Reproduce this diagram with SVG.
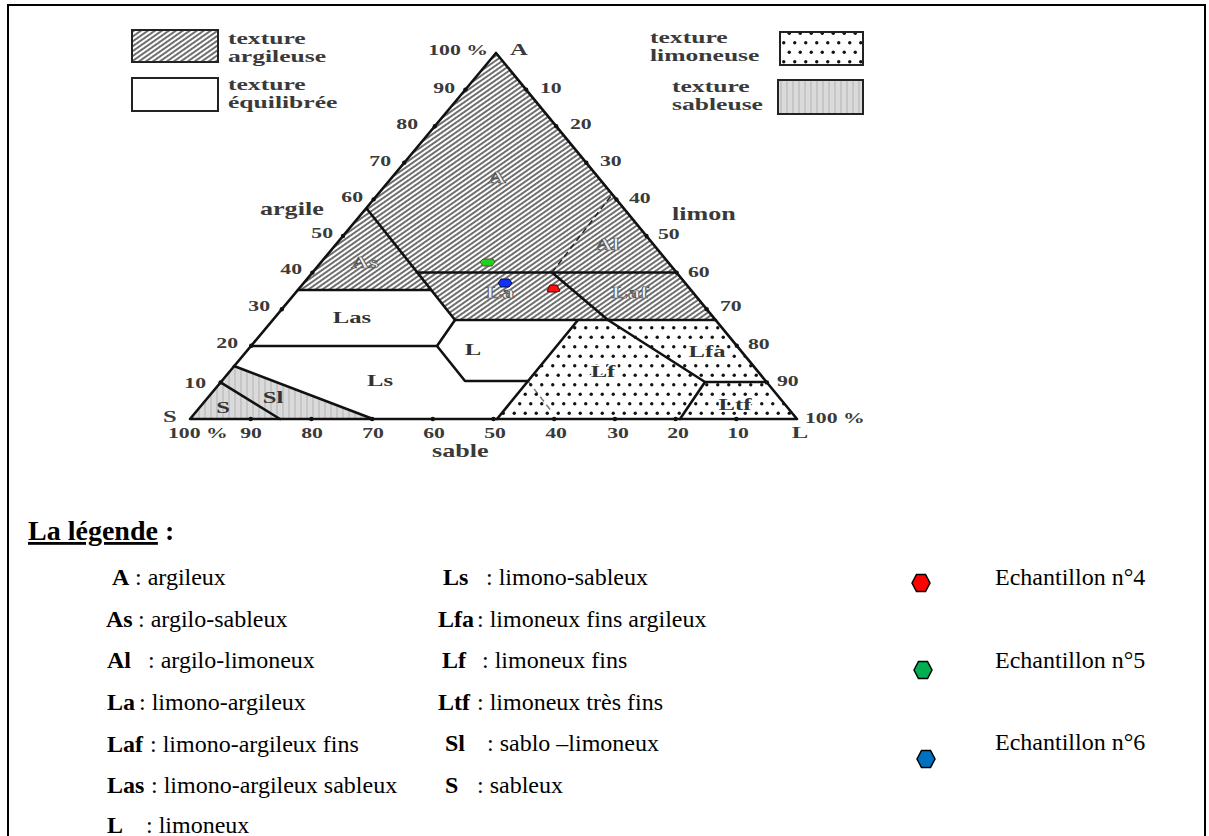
<svg xmlns="http://www.w3.org/2000/svg" width="1209" height="836" viewBox="0 0 1209 836">
<defs>
<style>
.n{font-family:"Liberation Serif","Times New Roman",serif;font-weight:bold;font-size:15px;fill:#3a3a3a}
.w{font-family:"Liberation Serif","Times New Roman",serif;font-weight:bold;font-size:18px;fill:#3a3a3a}
.wl{font-family:"Liberation Serif","Times New Roman",serif;font-weight:bold;font-size:16px;fill:#3a3a3a}
.r{font-family:"Liberation Serif","Times New Roman",serif;font-weight:bold;font-size:17px;text-anchor:middle}
.rh{fill:#f2f2f2;stroke:#555;stroke-width:0.7}
.rd{fill:#333;stroke:#fff;stroke-width:3;paint-order:stroke}
.bd{fill:none;stroke:#111;stroke-width:2.6;stroke-linejoin:round;stroke-linecap:round}
.ds{fill:none;stroke:#222;stroke-width:1.5;stroke-dasharray:6 4}
.tk{fill:#111}
.lg{font-family:"Liberation Serif","Times New Roman",serif;font-size:24px;fill:#000}
.b{font-weight:bold}
.hx{stroke:#000;stroke-width:1.5}
.box{stroke:#222;stroke-width:2}
</style>
<pattern id="hatch" width="4" height="4" patternUnits="userSpaceOnUse" patternTransform="rotate(-35)">
<rect width="4" height="4" fill="#fff"/>
<line x1="0" y1="2" x2="4" y2="2" stroke="#4a4a4a" stroke-width="1.6"/>
</pattern>
<pattern id="dots" width="11" height="19" patternUnits="userSpaceOnUse">
<rect width="11" height="19" fill="#fff"/>
<circle cx="2.75" cy="4.75" r="1.7" fill="#111"/>
<circle cx="8.25" cy="14.25" r="1.7" fill="#111"/>
</pattern>
<pattern id="sand" width="6" height="6" patternUnits="userSpaceOnUse">
<rect width="6" height="6" fill="#dadada"/>
<rect x="0" width="2" height="6" fill="#c6c6c6"/>
</pattern>
</defs>
<rect width="1209" height="836" fill="#fff"/>
<rect x="8" y="5" width="1197" height="840" fill="none" stroke="#000" stroke-width="2"/>

<g id="texture-legend">
<rect class="box" x="132" y="30" width="86" height="32" fill="url(#hatch)"/>
<rect class="box" x="132" y="78" width="86" height="33" fill="#fff"/>
<rect class="box" x="780" y="32" width="83" height="33" fill="url(#dots)"/>
<rect class="box" x="778" y="80" width="85" height="34" fill="url(#sand)"/>
<text class="wl" transform="translate(228 44) scale(1.6 1)">texture</text>
<text class="wl" transform="translate(228 62) scale(1.6 1)">argileuse</text>
<text class="wl" transform="translate(228 90) scale(1.6 1)">texture</text>
<text class="wl" transform="translate(228 108) scale(1.6 1)">équilibrée</text>
<text class="wl" transform="translate(650 43) scale(1.6 1)">texture</text>
<text class="wl" transform="translate(650 61) scale(1.6 1)">limoneuse</text>
<text class="wl" transform="translate(672 92) scale(1.6 1)">texture</text>
<text class="wl" transform="translate(672 110) scale(1.6 1)">sableuse</text>
</g>

<g id="regions">
<polygon id="reg-A" points="496,53 367,209 417,272.5 676.6,272.5" fill="url(#hatch)"/>
<polygon id="reg-As" points="367,209 298,290 431,290" fill="url(#hatch)"/>
<polygon id="reg-La" points="417,272.5 552,272.5 608,320 455,320" fill="url(#hatch)"/>
<polygon id="reg-Laf" points="552,272.5 676.6,272.5 715.6,320 608,320" fill="url(#hatch)"/>
<polygon id="reg-Las" points="298,290 431,290 455,320 437,346 251,346" fill="#fff"/>
<polygon id="reg-L" points="455,320 578,320 528,381 465,381 437,346" fill="#fff"/>
<polygon id="reg-Ls" points="251,346 437,346 465,381 528,381 497,419 373,419 234,366" fill="#fff"/>
<polygon id="reg-Sl" points="234,366 373,419 280,419 220.6,382.4" fill="url(#sand)"/>
<polygon id="reg-S" points="220.6,382.4 280,419 190,419" fill="url(#sand)"/>
<polygon id="reg-Lf" points="578,320 608,320 705,382 680,419 497,419" fill="url(#dots)"/>
<polygon id="reg-Lfa" points="608,320 715.6,320 766.6,382 705,382" fill="url(#dots)"/>
<polygon id="reg-Ltf" points="705,382 766.6,382 797,419 680,419" fill="url(#dots)"/>
</g>

<g id="connectors">
<polygon class="bd" points="496,53 797,419 190,419"/>
<polyline class="bd" points="367,209 455,320"/>
<polyline class="bd" points="417,272.5 676.6,272.5"/>
<polyline class="bd" points="298,290 431,290"/>
<polyline class="bd" points="455,320 715.6,320"/>
<polyline class="bd" points="251,346 437,346"/>
<polyline class="bd" points="455,320 437,346 465,381 528,381"/>
<polyline class="bd" points="578,320 497,419"/>
<polyline class="bd" points="552,272.5 608,320 705,382 680,419"/>
<polyline class="bd" points="705,382 766.6,382"/>
<polyline class="bd" points="234,366 373,419"/>
<polyline class="bd" points="220.6,382.4 280,419"/>
<polyline class="ds" points="552,272.5 611,196"/>
<polyline class="ds" points="528,381 552,412" opacity="0.6"/>
</g>

<g id="ticks">
<circle class="tk" cx="220.6" cy="382.4" r="2.2"/><circle class="tk" cx="251.2" cy="345.8" r="2.2"/><circle class="tk" cx="281.8" cy="309.2" r="2.2"/><circle class="tk" cx="312.4" cy="272.6" r="2.2"/><circle class="tk" cx="343" cy="236" r="2.2"/><circle class="tk" cx="373.6" cy="199.4" r="2.2"/><circle class="tk" cx="404.2" cy="162.8" r="2.2"/><circle class="tk" cx="434.8" cy="126.2" r="2.2"/><circle class="tk" cx="465.4" cy="89.6" r="2.2"/>
<circle class="tk" cx="526.1" cy="89.6" r="2.2"/><circle class="tk" cx="556.2" cy="126.2" r="2.2"/><circle class="tk" cx="586.3" cy="162.8" r="2.2"/><circle class="tk" cx="616.4" cy="199.4" r="2.2"/><circle class="tk" cx="646.5" cy="236" r="2.2"/><circle class="tk" cx="676.6" cy="272.6" r="2.2"/><circle class="tk" cx="706.7" cy="309.2" r="2.2"/><circle class="tk" cx="736.8" cy="345.8" r="2.2"/><circle class="tk" cx="766.9" cy="382.4" r="2.2"/>
<circle class="tk" cx="250.7" cy="419" r="2.2"/><circle class="tk" cx="311.4" cy="419" r="2.2"/><circle class="tk" cx="372.1" cy="419" r="2.2"/><circle class="tk" cx="432.8" cy="419" r="2.2"/><circle class="tk" cx="493.5" cy="419" r="2.2"/><circle class="tk" cx="554.2" cy="419" r="2.2"/><circle class="tk" cx="614.9" cy="419" r="2.2"/><circle class="tk" cx="675.6" cy="419" r="2.2"/><circle class="tk" cx="736.3" cy="419" r="2.2"/>
</g>

<g id="axis-labels">
<text class="n" text-anchor="end" transform="translate(488 55) scale(1.45 1)">100 %</text>
<text class="n" transform="translate(510 55) scale(1.45 1)" style="font-size:17px">A</text>
<text class="n" text-anchor="end" transform="translate(455 93) scale(1.45 1)">90</text>
<text class="n" text-anchor="end" transform="translate(418 129) scale(1.45 1)">80</text>
<text class="n" text-anchor="end" transform="translate(391 166) scale(1.45 1)">70</text>
<text class="n" text-anchor="end" transform="translate(363 202) scale(1.45 1)">60</text>
<text class="n" text-anchor="end" transform="translate(333 238) scale(1.45 1)">50</text>
<text class="n" text-anchor="end" transform="translate(302 274) scale(1.45 1)">40</text>
<text class="n" text-anchor="end" transform="translate(270 311) scale(1.45 1)">30</text>
<text class="n" text-anchor="end" transform="translate(238 348) scale(1.45 1)">20</text>
<text class="n" text-anchor="end" transform="translate(206 388) scale(1.45 1)">10</text>
<text class="n" transform="translate(163 422) scale(1.45 1)" style="font-size:17px">S</text>
<text class="w" transform="translate(260 215) scale(1.45 1)">argile</text>
<text class="n" transform="translate(540 93) scale(1.45 1)">10</text>
<text class="n" transform="translate(570 129) scale(1.45 1)">20</text>
<text class="n" transform="translate(600 166) scale(1.45 1)">30</text>
<text class="n" transform="translate(629 203) scale(1.45 1)">40</text>
<text class="n" transform="translate(658 239) scale(1.45 1)">50</text>
<text class="n" transform="translate(688 277) scale(1.45 1)">60</text>
<text class="n" transform="translate(720 311) scale(1.45 1)">70</text>
<text class="n" transform="translate(748 349) scale(1.45 1)">80</text>
<text class="n" transform="translate(777 386) scale(1.45 1)">90</text>
<text class="n" transform="translate(805 423) scale(1.45 1)">100 %</text>
<text class="w" transform="translate(672 220) scale(1.45 1)">limon</text>
<text class="n" transform="translate(168 438) scale(1.45 1)">100 %</text>
<text class="n" text-anchor="middle" transform="translate(251 438) scale(1.45 1)">90</text>
<text class="n" text-anchor="middle" transform="translate(312 438) scale(1.45 1)">80</text>
<text class="n" text-anchor="middle" transform="translate(373 438) scale(1.45 1)">70</text>
<text class="n" text-anchor="middle" transform="translate(434 438) scale(1.45 1)">60</text>
<text class="n" text-anchor="middle" transform="translate(495 438) scale(1.45 1)">50</text>
<text class="n" text-anchor="middle" transform="translate(556 438) scale(1.45 1)">40</text>
<text class="n" text-anchor="middle" transform="translate(618 438) scale(1.45 1)">30</text>
<text class="n" text-anchor="middle" transform="translate(678 438) scale(1.45 1)">20</text>
<text class="n" text-anchor="middle" transform="translate(738 438) scale(1.45 1)">10</text>
<text class="n" text-anchor="middle" transform="translate(800 438) scale(1.45 1)" style="font-size:17px">L</text>
<text class="w" transform="translate(432 457) scale(1.45 1)">sable</text>
</g>

<g id="region-labels">
<text class="r rh" transform="translate(497 183) scale(1.45 1)">A</text>
<text class="r rh" transform="translate(365 268) scale(1.45 1)">As</text>
<text class="r rh" transform="translate(607 250) scale(1.45 1)">Al</text>
<text class="r rh" transform="translate(500 298) scale(1.45 1)">La</text>
<text class="r rh" transform="translate(630 298) scale(1.45 1)">Laf</text>
<text class="r rd" transform="translate(352 323) scale(1.45 1)">Las</text>
<text class="r rd" transform="translate(473 355) scale(1.45 1)">L</text>
<text class="r rd" transform="translate(380 386) scale(1.45 1)">Ls</text>
<text class="r rd" transform="translate(273 403) scale(1.45 1)" style="stroke:none">Sl</text>
<text class="r rd" transform="translate(223 413) scale(1.45 1)" style="stroke:none">S</text>
<text class="r rd" transform="translate(707 357) scale(1.45 1)">Lfa</text>
<text class="r rd" transform="translate(603 377) scale(1.45 1)">Lf</text>
<text class="r rd" transform="translate(735 410) scale(1.45 1)">Ltf</text>
</g>

<g id="samples">
<polygon id="s5" points="480,262 483,259 493,259 495,262 492,266 483,266" fill="#1fd11f" stroke="#553" stroke-width="1"/>
<polygon id="s6" points="498,283 501,279 509,279 512,283 509,287 501,287" fill="#1030ff" stroke="#113" stroke-width="1"/>
<polygon id="s4" points="547,291 550,285 557,285 560,291 557,292 550,292" fill="#ff1010" stroke="#400" stroke-width="1"/>
</g>

<g id="legend">
<text class="lg b" x="28" y="540" style="font-size:28px"><tspan text-decoration="underline">La légende</tspan> :</text>
<text class="lg" x="112" y="585"><tspan class="b">A</tspan><tspan x="135">: argileux</tspan></text>
<text class="lg" x="106" y="627"><tspan class="b">As</tspan><tspan x="138">: argilo-sableux</tspan></text>
<text class="lg" x="107" y="668"><tspan class="b">Al</tspan><tspan x="148">: argilo-limoneux</tspan></text>
<text class="lg" x="107" y="710"><tspan class="b">La</tspan><tspan x="139">: limono-argileux</tspan></text>
<text class="lg" x="107" y="752"><tspan class="b">Laf</tspan><tspan x="150">: limono-argileux fins</tspan></text>
<text class="lg" x="107" y="793"><tspan class="b">Las</tspan><tspan x="151">: limono-argileux  sableux</tspan></text>
<text class="lg" x="107" y="833"><tspan class="b">L</tspan><tspan x="146">: limoneux</tspan></text>
<text class="lg" x="443" y="585"><tspan class="b">Ls</tspan><tspan x="486">: limono-sableux</tspan></text>
<text class="lg" x="438" y="627"><tspan class="b">Lfa</tspan><tspan x="477">: limoneux fins argileux</tspan></text>
<text class="lg" x="442" y="668"><tspan class="b">Lf</tspan><tspan x="482">: limoneux fins</tspan></text>
<text class="lg" x="438" y="710"><tspan class="b">Ltf</tspan><tspan x="477">: limoneux très fins</tspan></text>
<text class="lg" x="445" y="751"><tspan class="b">Sl</tspan><tspan x="487">: sablo –limoneux</tspan></text>
<text class="lg" x="445" y="793"><tspan class="b">S</tspan><tspan x="477">: sableux</tspan></text>
</g>

<g id="sample-legend">
<polygon class="hx" points="912,583 916.5,574.5 925.5,574.5 930,583 925.5,591.5 916.5,591.5" fill="#ff0000"/>
<polygon class="hx" points="914,670 918.5,661.5 927.5,661.5 932,670 927.5,678.5 918.5,678.5" fill="#00b050"/>
<polygon class="hx" points="917,759 921.5,750.5 930.5,750.5 935,759 930.5,767.5 921.5,767.5" fill="#0070c0"/>
<text class="lg" x="995" y="585">Echantillon n°4</text>
<text class="lg" x="995" y="668">Echantillon n°5</text>
<text class="lg" x="995" y="750">Echantillon n°6</text>
</g>
</svg>
